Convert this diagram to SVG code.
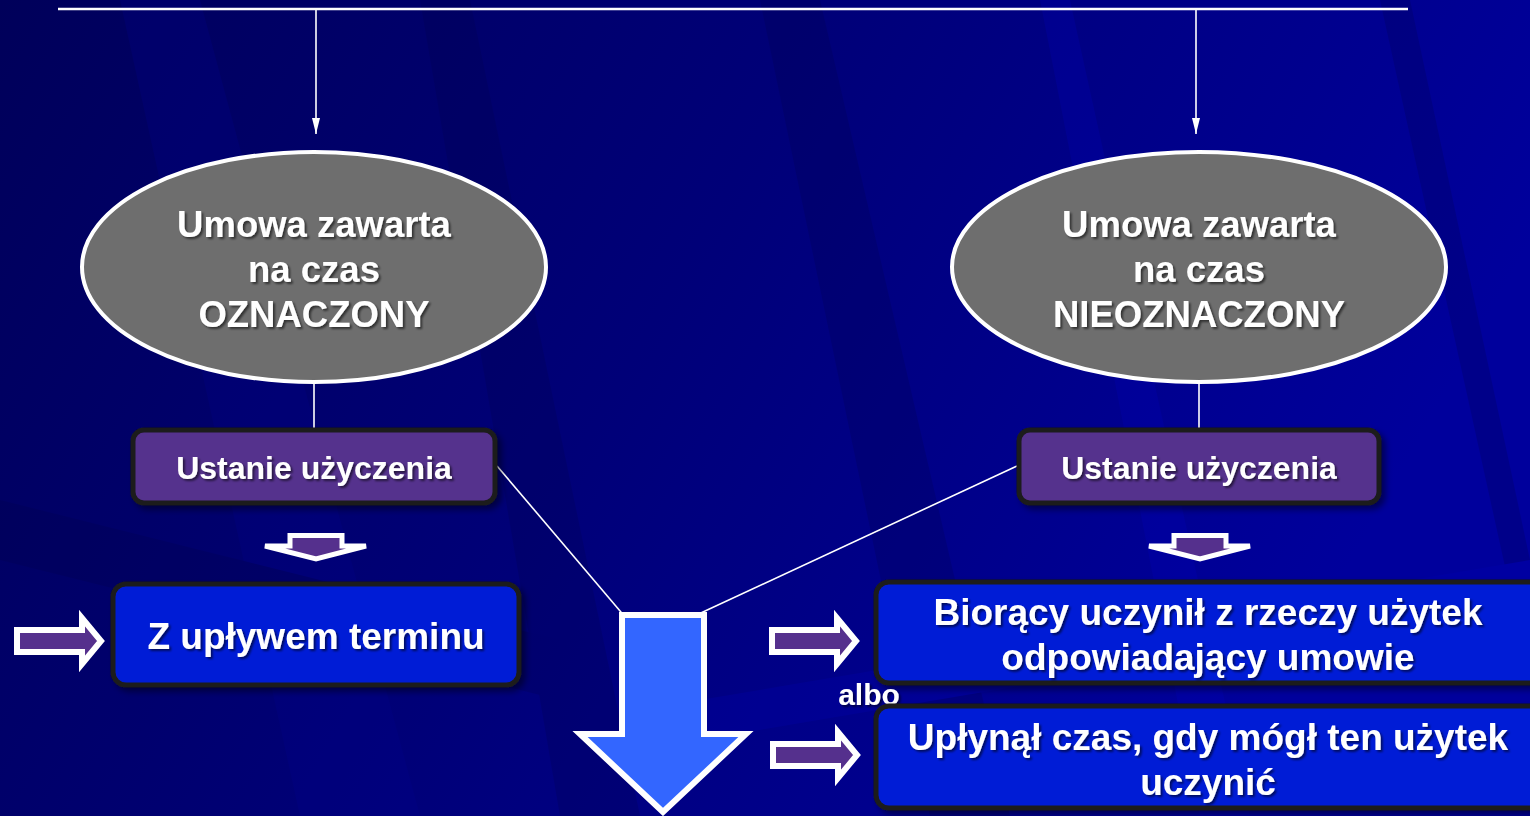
<svg xmlns="http://www.w3.org/2000/svg" width="1530" height="816" viewBox="0 0 1530 816">
  <defs>
    <linearGradient id="bg" x1="0" y1="0" x2="1" y2="0.3">
      <stop offset="0" stop-color="#00005a"/>
      <stop offset="0.5" stop-color="#000078"/>
      <stop offset="1" stop-color="#00009c"/>
    </linearGradient>
    <filter id="ts" x="-10%" y="-30%" width="120%" height="160%">
      <feDropShadow dx="2" dy="2" stdDeviation="1" flood-color="#000" flood-opacity="0.55"/>
    </filter>
    <filter id="bs" x="-10%" y="-20%" width="125%" height="150%">
      <feDropShadow dx="4" dy="4" stdDeviation="3" flood-color="#000" flood-opacity="0.45"/>
    </filter>
    <marker id="ah" viewBox="0 0 16 10" refX="16" refY="5" markerWidth="16" markerHeight="10" markerUnits="userSpaceOnUse" orient="auto">
      <path d="M0,1 L16,5 L0,9 Z" fill="#fff"/>
    </marker>
    <path id="rarrow" d="M3,17 H68 V5 L87,28 L68,51 V39 H3 Z"/>
    <path id="darrow" d="M290,535.5 H342 V546 H366 L316,559 L265,546 H290 Z"/>
  </defs>
  <style>
    .t { font-family: "Liberation Sans", Arial, sans-serif; font-weight: bold; fill: #fff; text-anchor: middle; filter: url(#ts); }
    .ell { fill: #6e6e6e; stroke: #fff; stroke-width: 4; }
    .pbox { fill: #55308d; stroke: #1c1c1c; stroke-width: 5; filter: url(#bs); }
    .bbox { fill: #061dd6; stroke: #1c1c1c; stroke-width: 5; filter: url(#bs); }
    .conn { stroke: #fff; stroke-width: 1.6; fill: none; }
    .harrow { fill: #55308d; stroke: #fff; stroke-width: 6; stroke-linejoin: miter; }
    .varrow { fill: #55308d; stroke: #fff; stroke-width: 5; stroke-linejoin: miter; }
  </style>

  <!-- background -->
  <rect x="0" y="0" width="1530" height="816" fill="url(#bg)"/>
  <g opacity="0.22">
    <polygon points="420,0 470,0 640,816 560,816" fill="#00004a"/>
    <polygon points="760,0 820,0 1010,816 930,816" fill="#00004a"/>
    <polygon points="1040,0 1070,0 1250,816 1200,816" fill="#0000c0"/>
    <polygon points="1380,0 1410,0 1530,560 1530,680" fill="#00004a"/>
    <polygon points="120,0 200,0 420,816 300,816" fill="#000090"/>
    <polygon points="0,500 560,640 560,700 0,560" fill="#000048"/>
    <polygon points="700,700 1530,560 1530,600 700,740" fill="#0000b8"/>
  </g>

  <!-- connectors -->
  <g id="connectors">
    <line x1="58" y1="9" x2="1408" y2="9" stroke="#fff" stroke-width="2.5"/>
    <line class="conn" x1="316" y1="10" x2="316" y2="134" marker-end="url(#ah)"/>
    <line class="conn" x1="1196" y1="10" x2="1196" y2="134" marker-end="url(#ah)"/>
    <line class="conn" x1="314" y1="384" x2="314" y2="428"/>
    <line class="conn" x1="1199" y1="384" x2="1199" y2="428"/>
    <line class="conn" x1="497" y1="466" x2="626" y2="618"/>
    <line class="conn" x1="1017" y1="466" x2="690" y2="618"/>
  </g>

  <g id="ellipse-oznaczony">
    <ellipse class="ell" cx="314" cy="267" rx="232" ry="115"/>
    <text class="t" x="314" y="237" font-size="36.5">Umowa zawarta</text>
    <text class="t" x="314" y="282" font-size="36.5">na czas</text>
    <text class="t" x="314" y="327" font-size="36.5">OZNACZONY</text>
  </g>

  <g id="ellipse-nieoznaczony">
    <ellipse class="ell" cx="1199" cy="267" rx="247" ry="115"/>
    <text class="t" x="1199" y="237" font-size="36.5">Umowa zawarta</text>
    <text class="t" x="1199" y="282" font-size="36.5">na czas</text>
    <text class="t" x="1199" y="327" font-size="36.5">NIEOZNACZONY</text>
  </g>

  <g id="ustanie-left">
    <rect class="pbox" x="133" y="430" width="362" height="73" rx="11"/>
    <text class="t" x="314" y="479" font-size="32">Ustanie użyczenia</text>
  </g>

  <g id="ustanie-right">
    <rect class="pbox" x="1019" y="430" width="360" height="73" rx="11"/>
    <text class="t" x="1199" y="479" font-size="32">Ustanie użyczenia</text>
  </g>

  <g id="down-arrow-left">
    <use href="#darrow" class="varrow"/>
  </g>
  <g id="down-arrow-right">
    <use href="#darrow" class="varrow" transform="translate(884,0)"/>
  </g>

  <g id="right-arrow-1">
    <use href="#rarrow" class="harrow" transform="translate(14,613)"/>
  </g>
  <g id="right-arrow-2">
    <use href="#rarrow" class="harrow" transform="translate(769,613)"/>
  </g>
  <g id="right-arrow-3">
    <use href="#rarrow" class="harrow" transform="translate(770,727)"/>
  </g>

  <g id="z-uplywem">
    <rect class="bbox" x="113" y="584" width="406" height="101" rx="13"/>
    <text class="t" x="316" y="649" font-size="37">Z upływem terminu</text>
  </g>

  <g id="big-arrow">
    <path d="M622,615 H704 V734 H746 L663,812 L580,734 H622 Z" fill="#3366ff" stroke="#fff" stroke-width="6" stroke-linejoin="miter"/>
  </g>

  <g id="biorący">
    <rect class="bbox" x="876" y="582" width="680" height="101" rx="13"/>
    <text class="t" x="1208" y="625" font-size="37">Biorący uczynił z rzeczy użytek</text>
    <text class="t" x="1208" y="670" font-size="37">odpowiadający umowie</text>
  </g>

  <g id="albo">
    <text class="t" x="869" y="705" font-size="30">albo</text>
  </g>

  <g id="uplynal">
    <rect class="bbox" x="876" y="706" width="680" height="102" rx="13"/>
    <text class="t" x="1208" y="750" font-size="37">Upłynął czas, gdy mógł ten użytek</text>
    <text class="t" x="1208" y="795" font-size="37">uczynić</text>
  </g>
</svg>
